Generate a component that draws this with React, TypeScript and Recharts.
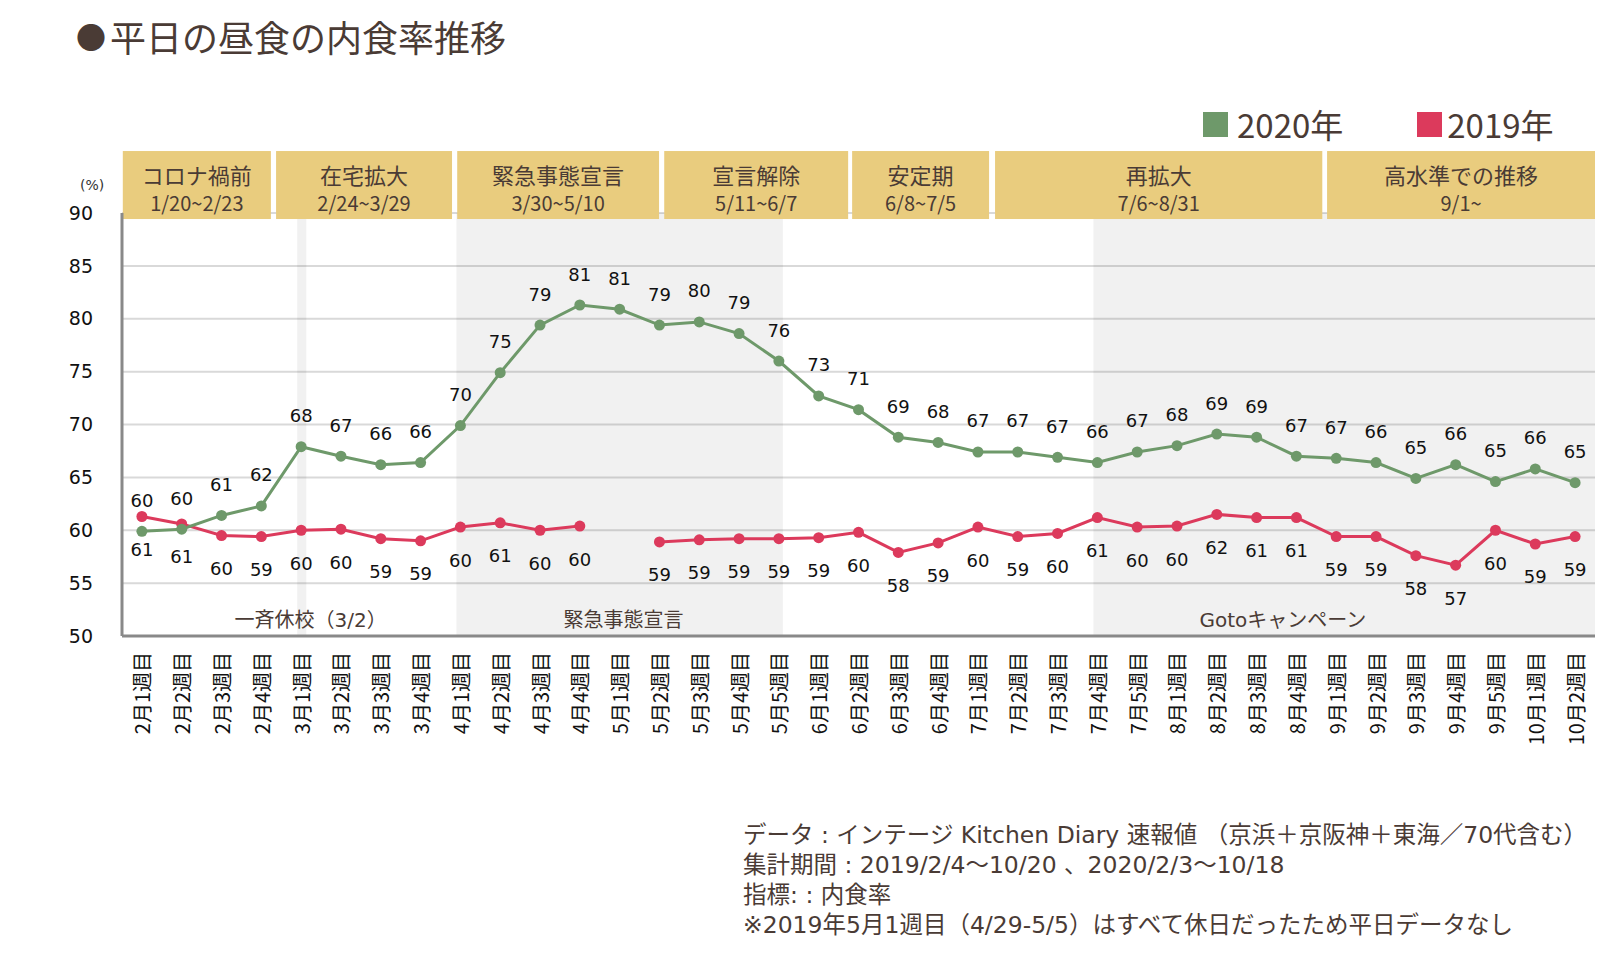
import {
  CartesianGrid,
  LabelList,
  Line,
  LineChart,
  ReferenceArea,
  ReferenceDot,
  XAxis,
  YAxis,
} from "recharts";

const weeks = [
  "2月1週目", "2月2週目", "2月3週目", "2月4週目",
  "3月1週目", "3月2週目", "3月3週目", "3月4週目",
  "4月1週目", "4月2週目", "4月3週目", "4月4週目",
  "5月1週目", "5月2週目", "5月3週目", "5月4週目", "5月5週目",
  "6月1週目", "6月2週目", "6月3週目", "6月4週目",
  "7月1週目", "7月2週目", "7月3週目", "7月4週目", "7月5週目",
  "8月1週目", "8月2週目", "8月3週目", "8月4週目",
  "9月1週目", "9月2週目", "9月3週目", "9月4週目", "9月5週目",
  "10月1週目", "10月2週目",
];

const rate2020 = [
  59.9, 60.1, 61.4, 62.3, 67.9, 67.0, 66.2, 66.4, 69.9, 74.9, 79.4, 81.3,
  80.9, 79.4, 79.7, 78.6, 76.0, 72.7, 71.4, 68.8, 68.3, 67.4, 67.4, 66.9,
  66.4, 67.4, 68.0, 69.1, 68.8, 67.0, 66.8, 66.4, 64.9, 66.2, 64.6, 65.8, 64.5,
];

const rate2019 = [
  61.3, 60.6, 59.5, 59.4, 60.0, 60.1, 59.2, 59.0, 60.3, 60.7, 60.0, 60.4,
  null, 58.9, 59.1, 59.2, 59.2, 59.3, 59.8, 57.9, 58.8, 60.3, 59.4, 59.7,
  61.2, 60.3, 60.4, 61.5, 61.2, 61.2, 59.4, 59.4, 57.6, 56.7, 60.0, 58.7, 59.4,
];

const yTicks = [50, 55, 60, 65, 70, 75, 80, 85, 90];

// phases, in week-index units
const phases = [
  { name: "コロナ禍前", range: "1/20~2/23", from: -0.48, to: 3.24 },
  { name: "在宅拡大", range: "2/24~3/29", from: 3.37, to: 7.79 },
  { name: "緊急事態宣言", range: "3/30~5/10", from: 7.92, to: 12.99 },
  { name: "宣言解除", range: "5/11~6/7", from: 13.12, to: 17.74 },
  { name: "安定期", range: "6/8~7/5", from: 17.84, to: 21.28 },
  { name: "再拡大", range: "7/6~8/31", from: 21.43, to: 29.65 },
  { name: "高水準での推移", range: "9/1~", from: 29.77, to: 36.5 },
];

const shaded = [
  { from: 3.9, to: 4.13 },
  { from: 7.9, to: 16.1 },
  { from: 23.9, to: 36.5 },
];

const notes = [
  { text: "一斉休校（3/2）", at: 4.24 },
  { text: "緊急事態宣言", at: 12.1 },
  { text: "Gotoキャンペーン", at: 28.66 },
];

const footnotes = [
  "データ : インテージ Kitchen Diary 速報値 （京浜＋京阪神＋東海／70代含む）",
  "集計期間 : 2019/2/4～10/20 、2020/2/3～10/18",
  "指標: : 内食率",
  "※2019年5月1週目（4/29-5/5）はすべて休日だったため平日データなし",
];

const GREEN = "#6e996a";
const RED = "#dc3a5c";
const BROWN = "#4a3b35";
const JP = '"Noto Sans CJK JP", "Noto Sans", sans-serif';
const NUM = '"DejaVu Sans", Verdana, sans-serif';
const MIX = '"DejaVu Sans", "Noto Sans CJK JP", sans-serif';

const data = weeks.map((w, i) => ({ i, w, y2020: rate2020[i], y2019: rate2019[i] }));

function WeekTick(props: any) {
  const { x, y, payload } = props;
  return (
    <text
      transform={`translate(${x},${y + 8}) rotate(-90)`}
      textAnchor="end"
      dominantBaseline="central"
      fontSize={20}
      fontFamily={JP}
      fill="#111"
    >
      {weeks[payload.value]}
    </text>
  );
}

function valueLabel(dy: number) {
  return (props: any) => {
    const { x, y, value } = props;
    if (value == null) return null;
    return (
      <text
        x={x}
        y={y + dy}
        textAnchor="middle"
        dominantBaseline="central"
        fontSize={18}
        fontFamily={NUM}
        fill="#111"
      >
        {Math.round(value)}
      </text>
    );
  };
}

function phaseShape(p: { name: string; range: string }) {
  return (props: any) => {
    const { x, y, width, height } = props;
    return (
      <g>
        <rect x={x} y={y} width={width} height={height} fill="#e9cc7e" />
        <text x={x + width / 2} y={y + 23} textAnchor="middle" dominantBaseline="central" fontSize={22} fontFamily={JP} fill={BROWN}>
          {p.name}
        </text>
        <text x={x + width / 2} y={y + 51} textAnchor="middle" dominantBaseline="central" fontSize={20} fontFamily={JP} fill={BROWN}>
          {p.range}
        </text>
      </g>
    );
  };
}

export default function App() {
  return (
    <div style={{ position: "absolute", left: 0, top: 0, width: 1623, height: 958, background: "#fff", fontFamily: JP }}>
      <div style={{ position: "absolute", left: 76, top: 14, display: "flex", alignItems: "center", color: BROWN, whiteSpace: "nowrap", lineHeight: "44px" }}>
        <span style={{ fontSize: 30, marginRight: 4 }}>●</span>
        <span style={{ fontSize: 36 }}>平日の昼食の内食率推移</span>
      </div>

      <div style={{ position: "absolute", left: 1203, top: 104, display: "flex", alignItems: "center", color: BROWN, fontSize: 33, lineHeight: "40px" }}>
        <span style={{ width: 25, height: 25, background: GREEN, marginRight: 9 }} />
        <span>2020年</span>
        <span style={{ width: 25, height: 25, background: RED, marginLeft: 74, marginRight: 5 }} />
        <span>2019年</span>
      </div>

      <div style={{ position: "absolute", left: 80, top: 177, fontSize: 14, color: "#333", fontFamily: NUM }}>(%)</div>

      <LineChart
        width={1623}
        height={958}
        data={data}
        margin={{ top: 213, right: 28, bottom: 222, left: 62 }}
      >
        {shaded.map((s, k) => (
          <ReferenceArea key={`s${k}`} x1={s.from} x2={s.to} y1={50} y2={90} fill="#000" fillOpacity={0.055} stroke="none" ifOverflow="visible" />
        ))}
        <CartesianGrid vertical={false} stroke="#d9d9d9" strokeWidth={2} />
        <XAxis
          type="number"
          dataKey="i"
          domain={[-0.5, 36.5]}
          ticks={weeks.map((_, i) => i)}
          interval={0}
          height={100}
          tickLine={false}
          axisLine={{ stroke: "#898989", strokeWidth: 3 }}
          tick={<WeekTick />}
        />
        <YAxis
          domain={[50, 90]}
          ticks={yTicks}
          width={60}
          tickLine={false}
          tickSize={0}
          tickMargin={29}
          axisLine={{ stroke: "#898989", strokeWidth: 3 }}
          tick={{ fontSize: 19, fill: "#111", fontFamily: NUM }}
        />
        {notes.map((n, k) => (
          <ReferenceDot
            key={`n${k}`}
            x={n.at}
            y={51.5}
            r={0}
            ifOverflow="visible"
            label={{ value: n.text, position: "center", fontSize: 20, fill: BROWN, fontFamily: MIX }}
          />
        ))}
        <Line
          type="linear"
          dataKey="y2019"
          stroke={RED}
          strokeWidth={3}
          dot={{ r: 5.5, fill: RED, stroke: RED, strokeWidth: 0 }}
          activeDot={false}
          isAnimationActive={false}
        >
          <LabelList dataKey="y2019" content={valueLabel(33)} />
        </Line>
        <Line
          type="linear"
          dataKey="y2020"
          stroke={GREEN}
          strokeWidth={3}
          dot={{ r: 5.5, fill: GREEN, stroke: GREEN, strokeWidth: 0 }}
          activeDot={false}
          isAnimationActive={false}
        >
          <LabelList dataKey="y2020" content={valueLabel(-31)} />
        </Line>
        {phases.map((p, k) => (
          <ReferenceArea
            key={`p${k}`}
            x1={p.from}
            x2={p.to}
            y1={89.43}
            y2={95.86}
            ifOverflow="visible"
            shape={phaseShape(p)}
          />
        ))}
      </LineChart>

      <div style={{ position: "absolute", left: 743, top: 820, fontSize: 23.5, lineHeight: "30px", color: BROWN, whiteSpace: "nowrap", fontFamily: MIX }}>
        {footnotes.map((f) => (
          <div key={f}>{f}</div>
        ))}
      </div>
    </div>
  );
}
